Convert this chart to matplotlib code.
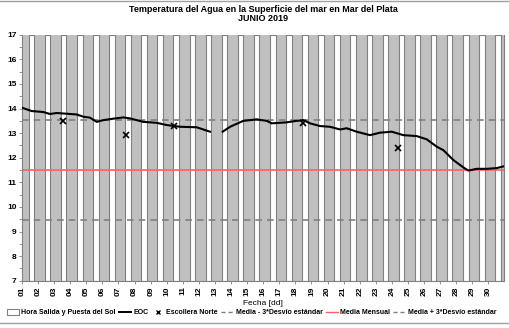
import numpy as np
import matplotlib.pyplot as plt
from matplotlib.patches import Patch
from matplotlib.lines import Line2D

plt.rcParams['font.family'] = ['Liberation Sans', 'DejaVu Sans']
plt.rcParams['font.weight'] = 'bold'

# dias del mes y etiquetas del eje x
dias = list(range(1, 31))
etiquetas = ['%02d' % d for d in dias]

# hora de salida y puesta del sol [h]
salida_sol = [10.0, 10.0, 10.0, 10.0, 10.1, 10.1, 10.1, 10.1, 10.1, 10.1,
              10.1, 10.1, 10.1, 10.1, 10.2, 10.2, 10.2, 10.2, 10.2, 10.2,
              10.2, 10.2, 10.2, 10.2, 10.2, 10.2, 10.2, 10.2, 10.2, 10.2]
puesta_sol = [18.4, 18.4, 18.4, 18.4, 18.4, 18.4, 18.4, 18.4, 18.4, 18.4,
              18.4, 18.4, 18.4, 18.4, 18.4, 18.4, 18.4, 18.4, 18.4, 18.4,
              18.4, 18.4, 18.4, 18.4, 18.4, 18.4, 18.4, 18.4, 18.4, 18.4]

# temperatura EOC (dia decimal, grados C); nan = sin dato
eoc_dia = [1.02, 1.60, 2.32, 2.74, 3.16, 3.78, 4.40, 4.81, 5.23, 5.65,
           6.06, 6.68, 7.30, 7.72, 8.54, 9.38, 10.00, 10.83, 11.86, 12.69,
           13.00,
           13.48, 13.94, 14.76, 15.60, 16.22, 16.53, 17.46, 18.08, 18.49, 18.91,
           19.53, 20.15, 20.78, 21.19, 21.81, 22.64, 23.26, 23.99, 24.71, 25.55,
           26.17, 26.79, 27.20, 27.82, 28.44, 28.75, 29.28, 29.90, 30.52, 31.00]
eoc_temp = [14.03, 13.90, 13.86, 13.78, 13.82, 13.79, 13.76, 13.67, 13.63, 13.46,
            13.53, 13.59, 13.64, 13.60, 13.46, 13.42, 13.33, 13.26, 13.24, 13.06,
            np.nan,
            13.06, 13.26, 13.50, 13.56, 13.50, 13.40, 13.44, 13.50, 13.53, 13.40,
            13.29, 13.26, 13.15, 13.20, 13.06, 12.92, 13.02, 13.06, 12.92, 12.88,
            12.75, 12.45, 12.31, 11.91, 11.61, 11.48, 11.55, 11.55, 11.58, 11.66]

# mediciones puntuales en Escollera Norte
escollera_dia = [3.53, 7.47, 10.47, 18.50, 24.40]
escollera_temp = [13.50, 12.92, 13.30, 13.42, 12.39]

media = 11.5
media_mas3 = 13.55
media_menos3 = 9.45

fig = plt.figure(figsize=(5.10, 3.28), dpi=100)
ax = fig.add_axes([0.0431, 0.144, 0.946, 0.750])
ax.set_facecolor('#c0c0c0')

# franjas diurnas
for d, s, p in zip(dias, salida_sol, puesta_sol):
    ax.bar(d + s / 24.0, 10, width=(p - s) / 24.0, bottom=7, align='edge',
           color='white', edgecolor='#808080', linewidth=0.8, zorder=1)

ax.axhline(media_mas3, color='#808080', ls=(0, (4, 3)), lw=1.2, zorder=2)
ax.axhline(media_menos3, color='#808080', ls=(0, (4, 3)), lw=1.2, zorder=2)
ax.axhline(media, color='#ff6060', lw=1.2, zorder=2)

ax.plot(eoc_dia, eoc_temp, color='black', lw=1.5, zorder=3)
ax.plot(escollera_dia, escollera_temp, 'x', color='black', ms=4.5, mew=1.2, zorder=4)

ax.set_xlim(1, 31)
ax.set_ylim(7, 17)
ax.set_xticks(dias)
ax.set_xticklabels(etiquetas, rotation=90)
ax.set_yticks(range(7, 18))
ax.set_yticks(np.arange(7.5, 17, 1.0), minor=True)
ax.tick_params(axis='both', which='both', labelsize=6, length=2,
               color='#808080', width=0.6, pad=2)
for sp in ax.spines.values():
    sp.set_color('#808080')
    sp.set_linewidth(0.8)
ax.spines['top'].set_visible(False)

ax.set_xlabel('Fecha [dd]', fontsize=6, labelpad=3)

fig.text(0.516, 0.958, 'Temperatura del Agua en la Superficie del mar en Mar del Plata\nJUNIO 2019',
         ha='center', va='center', fontsize=6.5, weight='bold', linespacing=1.0)

handles = [Patch(facecolor='white', edgecolor='#808080', linewidth=0.8),
           Line2D([], [], color='black', lw=1.4),
           Line2D([], [], marker='x', ls='none', color='black', ms=3.5, mew=1.0),
           Line2D([], [], color='#808080', ls=(0, (3, 2)), lw=1),
           Line2D([], [], color='#ff6060', lw=1),
           Line2D([], [], color='#808080', ls=(0, (3, 2)), lw=1)]
labels = ['Hora Salida y Puesta del Sol', 'EOC', 'Escollera Norte',
          'Media - 3*Desvío estándar', 'Media Mensual', 'Media + 3*Desvío estándar']
fig.legend(handles, labels, loc='center', bbox_to_anchor=(0.493, 0.046), ncol=6,
           frameon=False, fontsize=5, handlelength=1.8, handleheight=0.8,
           columnspacing=0.45, handletextpad=0.3, borderaxespad=0, borderpad=0)

# lineas del marco
fig.add_artist(Line2D([0, 1], [0.996, 0.996], color='#a0a0a0', lw=1))
fig.add_artist(Line2D([0, 1], [0.016, 0.016], color='#a0a0a0', lw=1))

fig.savefig('out.png', dpi=100)
